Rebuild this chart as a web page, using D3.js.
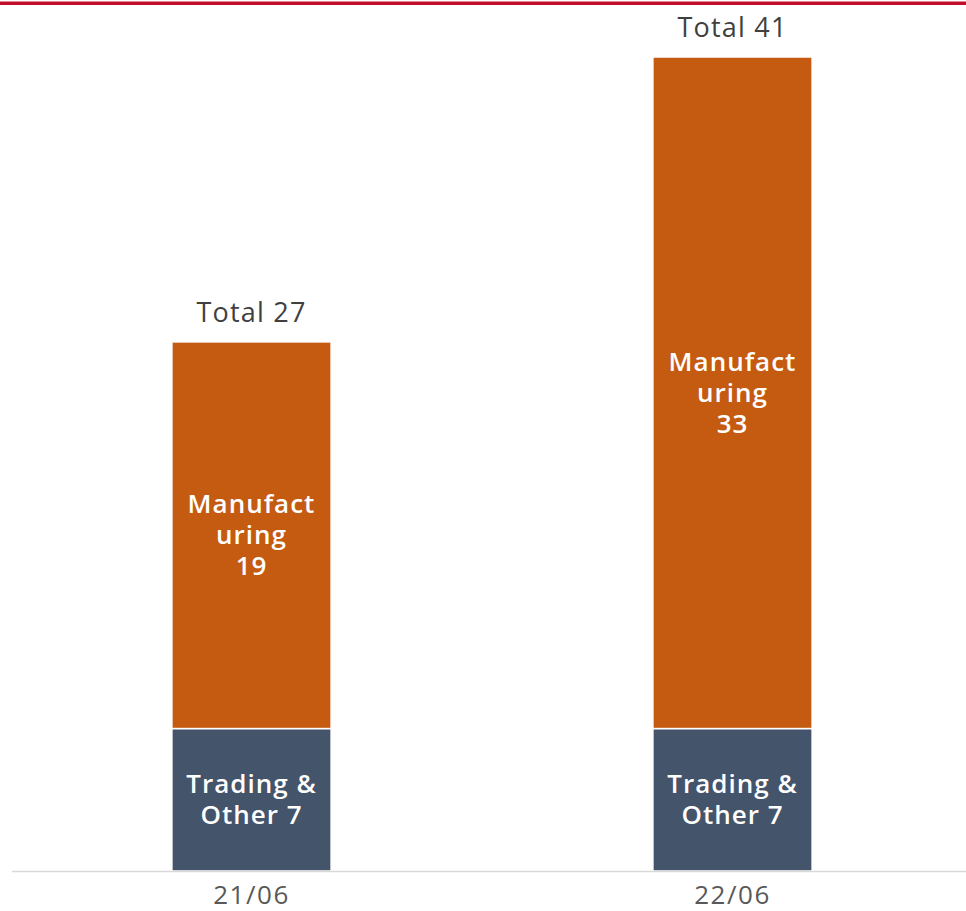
<!DOCTYPE html>
<html><head><meta charset="utf-8">
<script src="https://cdn.jsdelivr.net/npm/d3@7"></script>
<style>body{margin:0;background:#fff;} svg{display:block;}</style>
</head><body>
<svg id="c" width="966" height="911"></svg>
<script>
const categories = ["21/06", "22/06"];
const trading = [7, 7];
const manufacturing = [19, 33];
const totals = ["Total 27", "Total 41"];
const tradingLabels = [["Trading &", "Other 7"], ["Trading &", "Other 7"]];
const manufLabels = [["Manufact", "uring", "19"], ["Manufact", "uring", "33"]];

const svg = d3.select("#c");
const W = 966, H = 911;
const font = "'Open Sans', 'Noto Sans', sans-serif";

const x = d3.scaleBand().domain(categories).range([11, 973]).paddingInner(0.669).paddingOuter(0.3345);
const y = d3.scaleLinear().domain([0, 42]).range([871, 871 - 42 * 20.35]);

svg.append("rect").attr("x", 0).attr("y", 1.5).attr("width", W).attr("height", 3.5).attr("fill", "#C00D2B");

const data = categories.map((c, i) => ({c, t: trading[i], m: manufacturing[i], i}));

svg.selectAll(".tr").data(data).enter().append("rect")
  .attr("x", d => x(d.c)).attr("width", x.bandwidth())
  .attr("y", d => y(d.t)).attr("height", d => y(0) - y(d.t))
  .attr("fill", "#44546A").attr("stroke", "#fff").attr("stroke-width", 1.5);

svg.selectAll(".mf").data(data).enter().append("rect")
  .attr("x", d => x(d.c)).attr("width", x.bandwidth())
  .attr("y", d => y(d.t + d.m)).attr("height", d => y(d.t) - y(d.t + d.m))
  .attr("fill", "#C55A11").attr("stroke", "#fff").attr("stroke-width", 1.5);

svg.append("line").attr("x1", 12).attr("x2", W).attr("y1", y(0) + 0.5).attr("y2", y(0) + 0.5)
  .attr("stroke", "#D9D9D9").attr("stroke-width", 1.5);

svg.selectAll(".cat").data(data).enter().append("text")
  .attr("x", d => x(d.c) + x.bandwidth() / 2).attr("y", y(0) + 24)
  .attr("dy", "0.35em")
  .attr("text-anchor", "middle").attr("font-family", font).attr("font-size", 26)
  .attr("letter-spacing", 1.5).attr("fill", "#595959").text(d => d.c);

svg.selectAll(".tot").data(data).enter().append("text")
  .attr("x", d => x(d.c) + x.bandwidth() / 2).attr("y", d => y(d.t + d.m) - 20)
  .attr("text-anchor", "middle").attr("font-family", font).attr("font-size", 27)
  .attr("letter-spacing", 1.2).attr("fill", "#404040").text(d => totals[d.i]);

const lh = 31;
function multi(sel, lines, cx, cy) {
  const n = lines.length;
  lines.forEach((l, k) => {
    sel.append("text").attr("x", cx).attr("y", cy + (k - (n - 1) / 2) * lh)
      .attr("dy", "0.35em").attr("text-anchor", "middle")
      .attr("font-family", font).attr("font-size", 26).attr("font-weight", 600)
      .attr("letter-spacing", 1).attr("fill", "#fff").text(l);
  });
}
data.forEach(d => {
  const cx = x(d.c) + x.bandwidth() / 2;
  multi(svg, tradingLabels[d.i], cx, (y(0) + y(d.t)) / 2);
  multi(svg, manufLabels[d.i], cx, (y(d.t) + y(d.t + d.m)) / 2);
});
</script>
</body></html>
